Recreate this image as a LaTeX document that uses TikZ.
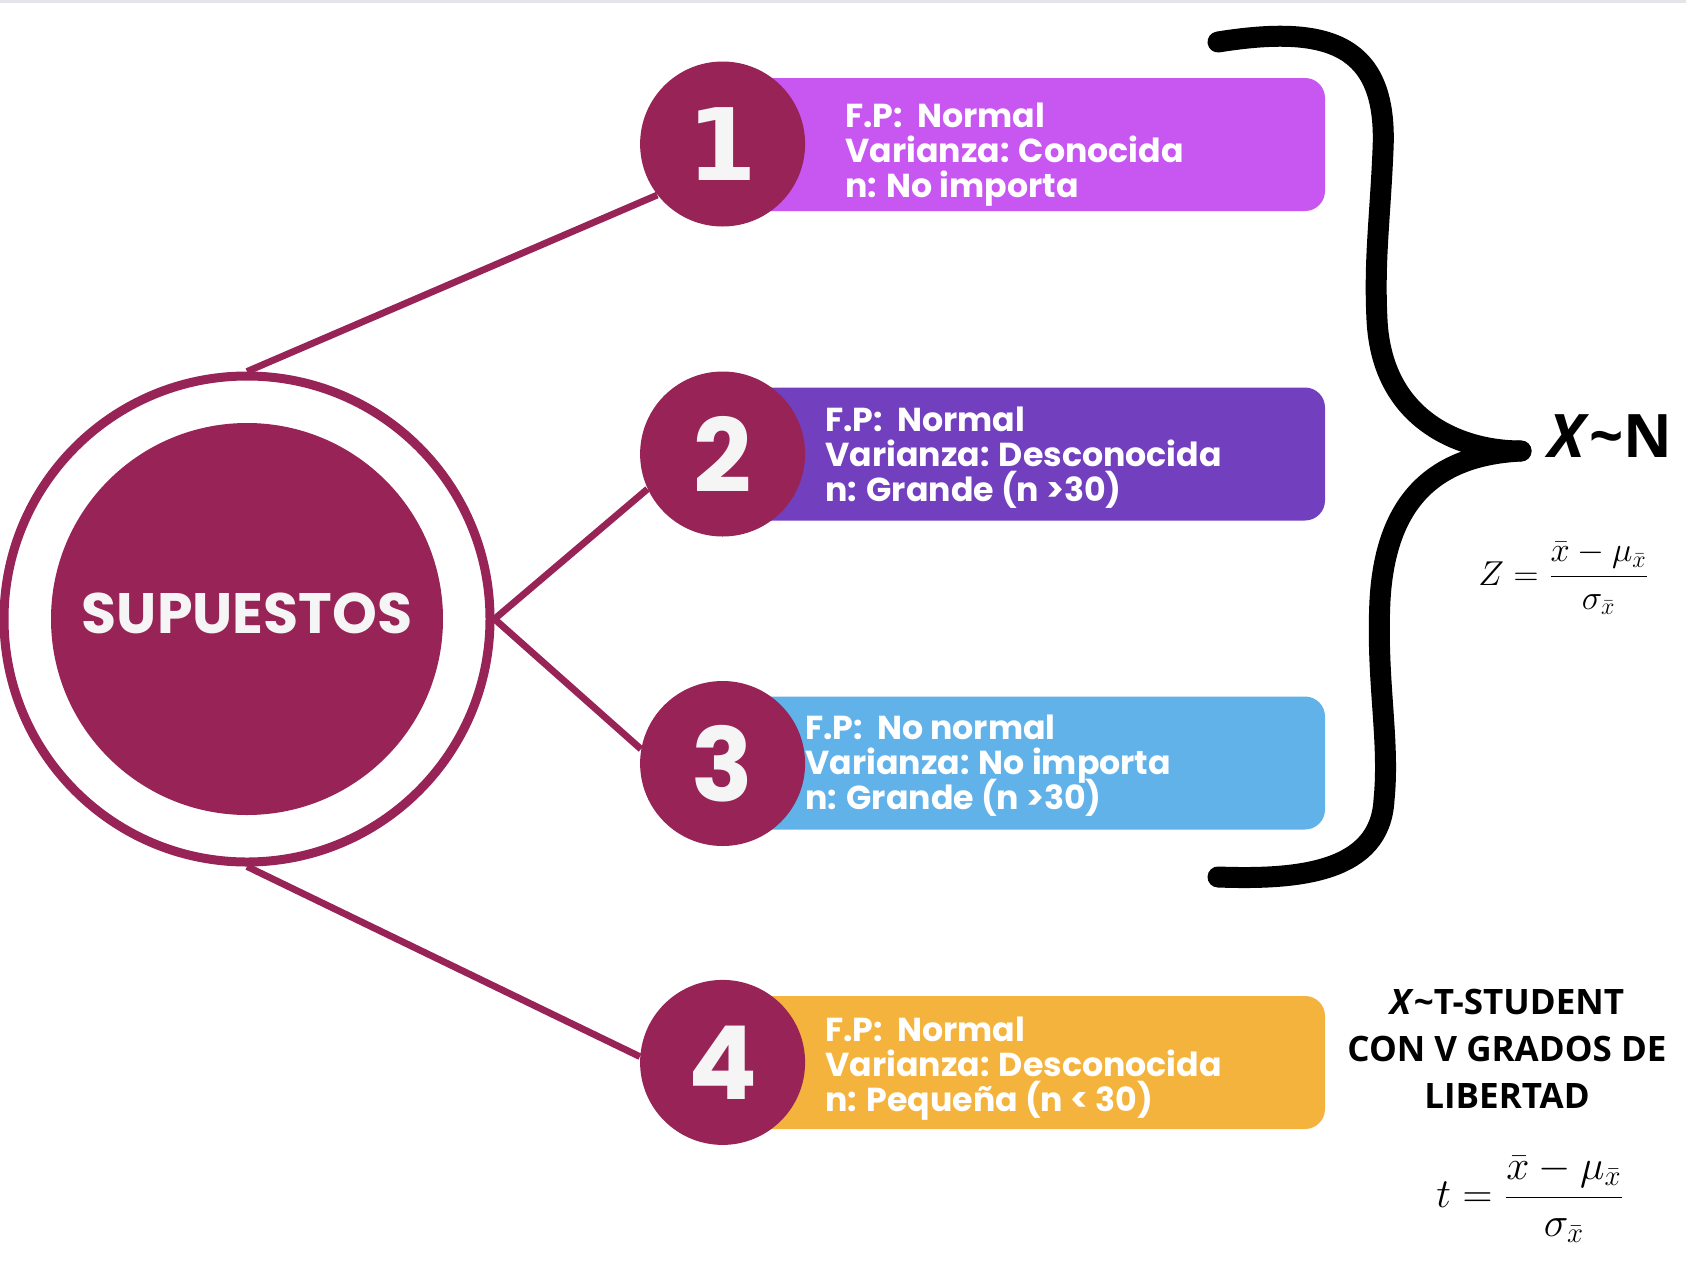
\documentclass[tikz,border=0pt]{standalone}
\usepackage[no-math]{fontspec}
\setmainfont{Poppins}
\newfontfamily\osans{Open Sans}
\newfontfamily\dvsans{DejaVu Sans}
\usetikzlibrary{backgrounds}
\definecolor{maroon}{RGB}{152,35,86}
\definecolor{cone}{RGB}{199,87,240}
\definecolor{ctwo}{RGB}{114,64,190}
\definecolor{cthree}{RGB}{98,178,234}
\definecolor{cfour}{RGB}{243,179,61}
\definecolor{numwhite}{RGB}{245,245,245}
\definecolor{topline}{RGB}{228,228,235}
\newcommand\infofont{\bfseries\fontsize{16.6}{17.5}\selectfont\lineskiplimit=-50pt\relax\lineskip=0pt\relax}
\tikzset{
  link/.style={draw=maroon, line width=3.4pt},
  numcirc/.style={circle, fill=maroon, minimum size=82.5pt, inner sep=0pt, text=numwhite, font=\bfseries\fontsize{51}{51}\selectfont},
  infobox/.style={rounded corners=10pt, minimum width=312.5pt, minimum height=66.5pt, inner sep=0pt},
  infotext/.style={anchor=base west, align=left, inner sep=0pt, text=white, font=\infofont},
  bracestroke/.style={draw=black, line width=10.5pt, line cap=round, line join=round},
  blacktext/.style={inner sep=0pt, text=black}
}
\begin{document}
\begin{tikzpicture}[x=0.5pt,y=-0.5pt]
\useasboundingbox (0,0) rectangle (1686,1264);
% central node
\node (ring) [circle, draw=maroon, line width=4.5pt, minimum size=243pt, inner sep=0pt] at (247,619) {};
\node (core) [circle, fill=maroon, minimum size=196pt, inner sep=0pt] at (247,619) {};
\node (label) [inner sep=0pt, text=numwhite, font=\bfseries\fontsize{28.5}{28.5}\selectfont] at (247,613) {SUPUESTOS};
% boxes
\node (b1) [infobox, fill=cone]   at (1012.5,144.5) {};
\node (b2) [infobox, fill=ctwo]   at (1012.5,454) {};
\node (b3) [infobox, fill=cthree] at (1012.5,763) {};
\node (b4) [infobox, fill=cfour]  at (1012.5,1062.5) {};
% number circles
\node (c1) [numcirc, font=\dvsans\bfseries\fontsize{50}{50}\selectfont] at (722.6,144) {1};
\node (c2) [numcirc] at (722.6,454) {2};
\node (c3) [numcirc] at (722.6,763.5) {3};
\node (c4) [numcirc] at (722.6,1062.4) {4};
% box texts (anchor = baseline of last line)
\node (t1) [infotext] at (845,197) {F.P:\ \ Normal\\Varianza: Conocida\\n: No importa};
\node (t2) [infotext] at (825,501) {F.P:\ \ Normal\\Varianza: Desconocida\\n: Grande (n >30)};
\node (t3) [infotext] at (805,809) {F.P:\ \ No normal\\Varianza: No importa\\n: Grande (n >30)};
\node (t4) [infotext] at (825,1111) {F.P:\ \ Normal\\Varianza: Desconocida\\n: Pequeña (n < 30)};
% connectors
\begin{scope}[on background layer]
\fill[white] (0,0) rectangle (1686,1264);
\fill[topline] (0,0) rectangle (1686,3);
\draw[link] (ring.north) -- (c1.218);
\draw[link] (ring.east) -- (c2.205);
\draw[link] (ring.east) -- (c3.170);
\draw[link] (ring.south) -- (c4.176);
\end{scope}
% brace
\coordinate (btop) at (1218,42);
\coordinate (btip) at (1521,451);
\coordinate (bbot) at (1218,877);
\draw[bracestroke] (btop) .. controls (1330,24) and (1388,45) .. (1383,150)
  .. controls (1380,220) and (1374,260) .. (1377,320)
  .. controls (1382,420) and (1460,451) .. (btip);
\draw[bracestroke] (btip) .. controls (1440,455) and (1386,495) .. (1380,600)
  .. controls (1376,680) and (1390,740) .. (1384,800)
  .. controls (1380,872) and (1300,880) .. (bbot);
% right texts
\node (xn) [blacktext, anchor=base west, font=\osans\bfseries\fontsize{30}{30}\selectfont] at (1548,457) {\textit{X}\textasciitilde N};
\node (zf) [blacktext, anchor=west, font=\fontsize{18}{21}\selectfont] at (1478,578) {$\displaystyle Z=\frac{\bar{x}-\mu_{\bar{x}}}{\sigma_{\bar{x}}}$};
\node (ts) [blacktext, anchor=base, align=center, font=\osans\bfseries\fontsize{17.5}{23.5}\selectfont] at (1507,1108) {\textit{X}\textasciitilde T-STUDENT\\CON V GRADOS DE\\LIBERTAD};
\node (tf) [blacktext, anchor=west, font=\fontsize{22}{25}\selectfont] at (1436,1199) {$\displaystyle t=\frac{\bar{x}-\mu_{\bar{x}}}{\sigma_{\bar{x}}}$};
\end{tikzpicture}
\end{document}
